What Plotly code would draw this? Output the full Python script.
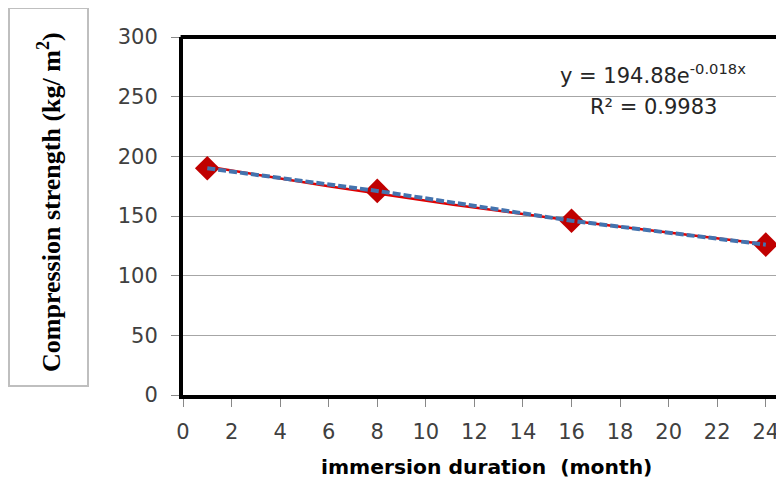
import numpy as np
import plotly.graph_objects as go

# Data
months = [1, 8, 16, 24]
strength = [190, 171, 146, 126]
trend_a = 194.88
trend_b = -0.018
x_ticks = list(range(0, 25, 2))
y_ticks = list(range(0, 301, 50))

trend_x = np.linspace(months[0], months[-1], 60)
trend_y = trend_a * np.exp(trend_b * trend_x)

fig = go.Figure()
fig.add_trace(go.Scatter(x=trend_x, y=trend_y, mode="lines",
                         line=dict(color="#E00000", width=2.5), showlegend=False,
                         hoverinfo="skip"))
fig.add_trace(go.Scatter(x=months, y=strength, mode="markers",
                         marker=dict(symbol="diamond", size=19, color="#C00000"),
                         showlegend=False))
fig.add_trace(go.Scatter(x=months, y=strength, mode="lines",
                         line=dict(color="#4473AE", width=4, dash="8px,3px"),
                         showlegend=False))

OFF = 8  # page body margin
W, H = 784 - OFF, 486 - 2 * OFF
L, R, T = 183 - OFF, 0, 37 - OFF
B = H - (395 - OFF)
pw = W - L - R
ph = H - T - B

def px(x):
    return (x - OFF - L) / pw

def py(y):
    return (H - B - (y - OFF)) / ph

sans = "'DejaVu Sans', Verdana, sans-serif"
tickfont = dict(family=sans, size=21, color="#404040")

fig.update_layout(
    width=W, height=H,
    margin=dict(l=L, r=R, t=T, b=B),
    plot_bgcolor="white", paper_bgcolor="white",
    xaxis=dict(range=[0, 24.75], tickvals=x_ticks, showgrid=False, zeroline=False,
               showline=True, linecolor="black", linewidth=4,
               ticks="outside", ticklen=8, tickcolor="#888888", tickwidth=1,
               tickfont=tickfont, ticklabelstandoff=7),
    yaxis=dict(range=[0, 300], tickvals=y_ticks, showgrid=True, gridcolor="#A6A6A6",
               gridwidth=1, zeroline=False,
               showline=True, linecolor="black", linewidth=4,
               ticks="outside", ticklen=8, tickcolor="#888888", tickwidth=1,
               tickfont=tickfont, ticklabelstandoff=9),
    shapes=[
        dict(type="line", xref="paper", yref="paper", x0=-0.004, x1=1.0, y0=1, y1=1,
             line=dict(color="black", width=4)),
        dict(type="rect", xref="paper", yref="paper", x0=px(9), x1=px(88),
             y0=py(386), y1=py(8), line=dict(color="#BFBFBF", width=2)),
    ],
    annotations=[
        dict(xref="paper", yref="paper", x=px(49), y=py(202), textangle=-90,
             xanchor="center", yanchor="middle",
             text="<b>Compression strength (kg/ m<sup>2</sup>)</b>", showarrow=False,
             font=dict(family="'Liberation Serif', 'Times New Roman', serif", size=26, color="black")),
        dict(xref="paper", yref="paper", x=px(486), y=py(467),
             xanchor="center", yanchor="middle",
             text="<b>immersion duration  (month)</b>", showarrow=False,
             font=dict(family=sans, size=20.3, color="black")),
        dict(xref="paper", yref="paper", x=px(653), y=py(74),
             xanchor="center", yanchor="middle",
             text="y = 194.88e<sup>-0.018x</sup>", showarrow=False,
             font=dict(family=sans, size=21, color="#262626")),
        dict(xref="paper", yref="paper", x=px(653), y=py(107),
             xanchor="center", yanchor="middle",
             text="R² = 0.9983", showarrow=False,
             font=dict(family=sans, size=21, color="#262626")),
    ],
)

fig.write_html("out.html")
